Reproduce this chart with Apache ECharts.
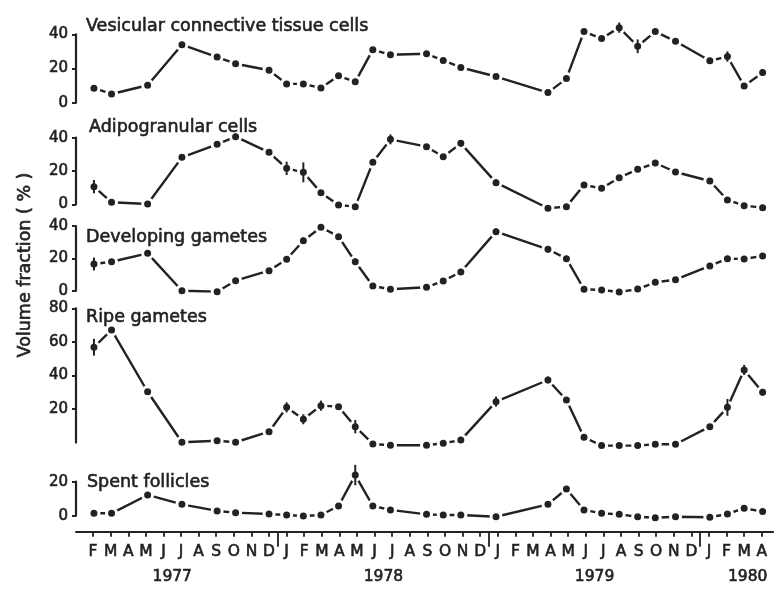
<!DOCTYPE html>
<html>
<head>
<meta charset="utf-8">
<script src="https://cdn.jsdelivr.net/npm/echarts@6/dist/echarts.min.js"></script>
<style>html,body{margin:0;padding:0;background:#fff}#c{width:779px;height:595px}</style>
</head>
<body>
<div id="c"></div>
<script>
// ---------- data ----------
const monthLabels = ['F','M','A','M','J','J','A','S','O','N','D',
  'J','F','M','A','M','J','J','A','S','O','N','D',
  'J','F','M','A','M','J','J','A','S','O','N','D',
  'J','F','M','A'];
const yearLabels = ['1977','1978','1979','1980'];
const yearPositions = [4.5, 16.5, 28.5, 37.2];
const yearBreaks = [10.5, 22.5, 34.5];

// sampling dates, months after Feb 1977
const sampleMonths = [0.05, 1.05, 3.1, 5.05, 7.05, 8.1, 10.0, 11.0, 11.95, 12.95, 13.95, 14.9, 15.9, 16.9,
  18.95, 19.9, 20.9, 22.9, 25.85, 26.9, 27.9, 28.9, 29.9, 30.95, 31.95, 33.1, 35.05, 36.05, 37.0, 38.05];

const panelTitles = ['Vesicular connective tissue cells', 'Adipogranular cells', 'Developing gametes', 'Ripe gametes', 'Spent follicles'];
const panelMax = [40, 40, 40, 80, 20];

const vesicular = [8.5, 5.1, 10.2, 33.9, 26.7, 22.8, 19, 11, 11, 8.6, 15.7, 12.2, 31, 28,
  28.6, 24.7, 20.6, 15.3, 5.9, 14.1, 41.6, 37.5, 43.9, 33, 41.6, 35.9, 24.5, 27, 9.8, 17.6];
const vesicularErr = [0,0,0,0,0,0,0,0,0,0,0,0,0,0, 0,0,0,0,0,0,0,0,3,4,0,0,0,3,0,2];

const adipogranular = [10.6, 1.2, 0.2, 28.2, 36, 40.6, 31.2, 21.6, 19.2, 7, -0.4, -1.4, 25.2, 39,
  34.6, 28.6, 36.6, 13, -2.4, -1.4, 11.6, 9.6, 16, 21, 24.8, 19.4, 14, 2.6, -0.8, -2];
const adipogranularErr = [4,0,0,0,0,2,0,4,6,0,0,0,0,3, 0,0,2,2,0,0,0,0,0,0,0,0,0,0,0,0];

const developing = [16.5, 17.9, 23.1, 0, -0.6, 6.2, 12.4, 19.4, 30.9, 39.2, 33.4, 17.9, 2.9, 0.9,
  2.1, 6, 11.6, 36.5, 25.6, 19.8, 0.9, 0.4, -0.8, 1, 5.2, 6.8, 15.3, 19.8, 19.6, 21.5];
const developingErr = [4,0,0,0,0,0,0,0,2,0,0,2,0,0, 0,0,0,2,2,0,0,0,0,0,0,0,0,0,0,0];

const ripe = [56.8, 67.1, 30.3, 0.2, 1.1, 0.2, 6.5, 21, 13.9, 22, 21.4, 9.5, -0.8, -1.6,
  -1.6, -0.4, 1.5, 24.4, 37.3, 25.4, 3.2, -1.8, -1.8, -1.8, -1, -1, 9.5, 21, 43.3, 30];
const ripeErr = [5,0,0,0,0,0,0,3,3,3,0,4,0,0, 0,0,0,3,2,0,0,0,0,0,0,0,0,5,3,2];

const spent = [1.4, 1.4, 12.2, 6.7, 2.8, 1.8, 1, 0.4, -0.2, 0.4, 5.7, 23.9, 5.7, 3.4,
  0.8, 0.4, 0.4, -0.6, 6.7, 15.7, 3.4, 1.4, 0.8, -0.6, -1.2, -0.6, -0.9, 1, 4.4, 2.4];
const spentErr = [0,0,0,0,0,0,0,0,0,0,0,6,0,0, 0,0,0,0,0,0,0,0,0,0,0,0,0,0,0,0];

const panelValues = [vesicular, adipogranular, developing, ripe, spent];
const panelErrors = [vesicularErr, adipogranularErr, developingErr, ripeErr, spentErr];

// ---------- layout / style ----------
const INK = '#222222';
const FONT = 'DejaVu Sans';
const HEAVY = {textBorderColor: INK, textBorderWidth: 0.6};
const gridBoxes = [
  {top: 34.3, height: 68.4},
  {top: 137.7, height: 66.6},
  {top: 226, height: 64.7},
  {top: 308.3, height: 134.3},
  {top: 481.7, height: 34}
];
const titleBoxes = [
  {left: 86, top: 16}, {left: 89, top: 117}, {left: 86, top: 227}, {left: 86, top: 307}, {left: 87, top: 472}
];
const X_MIN = -0.97, X_MAX = 38.64;
const monthTicks = monthLabels.map((_, i) => i);

const grid = gridBoxes.map(g => ({left: 76, right: 6, top: g.top, height: g.height}));

const xAxis = gridBoxes.map((g, i) => {
  const base = {type: 'value', gridIndex: i, min: X_MIN, max: X_MAX, position: 'bottom', splitLine: {show: false}};
  if (i < 4) return Object.assign(base, {show: false});
  return Object.assign(base, {
    offset: 16,
    axisLine: {show: true, onZero: false, lineStyle: {color: INK, width: 2.2}},
    axisTick: {show: true, customValues: monthTicks, length: 5, lineStyle: {color: INK, width: 1.8}},
    axisLabel: Object.assign({show: true, customValues: monthTicks, margin: 12, color: INK, fontSize: 15.5, fontFamily: FONT,
      formatter: v => monthLabels[Math.round(v)] || ''}, HEAVY)
  });
});
xAxis.push({
  type: 'value', gridIndex: 4, min: X_MIN, max: X_MAX, position: 'bottom', offset: 16,
  axisLine: {show: false, onZero: false}, splitLine: {show: false},
  axisTick: {show: true, customValues: yearBreaks, length: 15, lineStyle: {color: INK, width: 1.8}},
  axisLabel: {show: false}
});
xAxis.push({
  type: 'value', gridIndex: 4, min: X_MIN, max: X_MAX, position: 'bottom', offset: 16,
  axisLine: {show: false, onZero: false}, splitLine: {show: false}, axisTick: {show: false},
  axisLabel: Object.assign({show: true, customValues: yearPositions, margin: 37, color: INK, fontSize: 15.5, fontFamily: FONT,
    formatter: v => { const k = yearPositions.indexOf(v); return k >= 0 ? yearLabels[k] : ''; }}, HEAVY)
});

const yAxis = panelMax.map((mx, i) => ({
  type: 'value', gridIndex: i, min: 0, max: mx, interval: 20, position: 'left',
  axisLine: {show: true, onZero: false, lineStyle: {color: INK, width: 2.2}},
  axisTick: {show: true, length: 4, lineStyle: {color: INK, width: 2}},
  axisLabel: Object.assign({show: true, margin: 8, color: INK, fontSize: 15, fontFamily: FONT, showMinLabel: i !== 3}, HEAVY),
  splitLine: {show: false}
}));

const series = [];
panelValues.forEach((vals, i) => {
  series.push({
    type: 'line', xAxisIndex: i, yAxisIndex: i, clip: false,
    data: sampleMonths.map((m, j) => [m, vals[j]]),
    symbol: 'circle', symbolSize: 10,
    itemStyle: {color: INK, borderColor: '#fff', borderWidth: 3},
    lineStyle: {color: INK, width: 2.4},
    z: 2, animation: false
  });
  const errs = panelErrors[i];
  series.push({
    type: 'custom', xAxisIndex: i, yAxisIndex: i, clip: false, z: 4,
    data: sampleMonths.map((m, j) => [m, vals[j], errs[j]]).filter(d => d[2] > 0),
    renderItem: (params, api) => {
      const x = api.value(0), y = api.value(1), e = api.value(2);
      const p1 = api.coord([x, y - e]), p2 = api.coord([x, y + e]);
      return {type: 'line', shape: {x1: p1[0], y1: p1[1], x2: p2[0], y2: p2[1]},
        style: {stroke: INK, lineWidth: 2}};
    },
    animation: false
  });
});

const title = panelTitles.map((t, i) => ({
  text: t, left: titleBoxes[i].left, top: titleBoxes[i].top, padding: 0,
  textStyle: Object.assign({color: INK, fontSize: 17.5, fontWeight: 'normal', fontFamily: FONT, lineHeight: 20}, HEAVY)
}));

const chart = echarts.init(document.getElementById('c'), null, {renderer: 'canvas'});
chart.setOption({
  animation: false,
  backgroundColor: '#fff',
  title: title,
  grid: grid,
  xAxis: xAxis,
  yAxis: yAxis,
  series: series,
  graphic: [{
    type: 'text', x: 25, y: 265, rotation: Math.PI / 2,
    style: {text: 'Volume fraction ( % )', fill: INK, font: '17.5px "DejaVu Sans"',
      stroke: INK, lineWidth: 0.6,
      textAlign: 'center', textVerticalAlign: 'middle', align: 'center', verticalAlign: 'middle'}
  }]
});
</script>
</body>
</html>
